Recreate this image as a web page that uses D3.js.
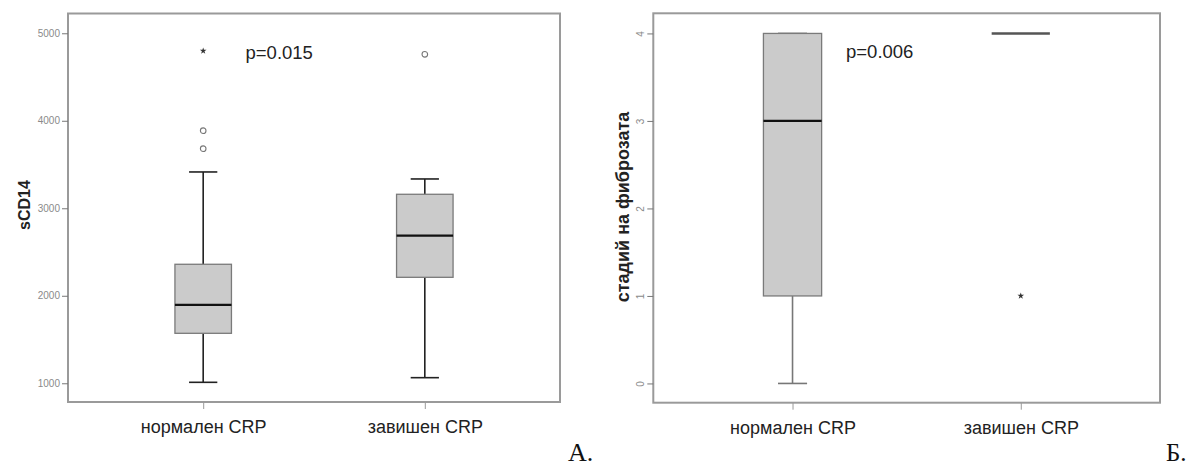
<!DOCTYPE html>
<html>
<head>
<meta charset="utf-8">
<script src="https://cdn.jsdelivr.net/npm/d3@7"></script>
<style>
  html, body { margin: 0; padding: 0; background: #fff; }
  svg { display: block; }
  text { font-family: "Liberation Sans", Arial, sans-serif; }
</style>
</head>
<body>
<svg id="chart" width="1192" height="468"></svg>
<script>
// Groups (CRP status)
const categories = ["нормален CRP", "завишен CRP"];

// Panel A: sCD14 box statistics per group
const sCD14Low    = [1011, 1064];
const sCD14Q1     = [1571, 2211];
const sCD14Median = [1895, 2687];
const sCD14Q3     = [2360, 3160];
const sCD14High   = [3415, 3335];
const sCD14Outliers = [[3887, 3681], [4760]];
const sCD14Extremes = [[4798], []];
const sCD14Ticks = [1000, 2000, 3000, 4000, 5000];

// Panel B: fibrosis stage box statistics per group
const stageLow    = [0, 4];
const stageQ1     = [1, 4];
const stageMedian = [3, 4];
const stageQ3     = [4, 4];
const stageHigh   = [4, 4];
const stageOutliers = [[], []];
const stageExtremes = [[], [1]];
const stageTicks = [0, 1, 2, 3, 4];

const svg = d3.select("#chart");

function boxPanel(cfg) {
  const g = svg.append("g");
  const [x0, x1] = cfg.xRange, [yb, yt] = cfg.yRange;

  const x = d3.scalePoint().domain(categories).range([x0, x1]).padding(0.61);
  const y = d3.scaleLinear().domain(cfg.yDomain).range([yb, yt]);
  const bw = x.step() * 0.255;

  const stats = categories.map((c, i) => ({
    c, low: cfg.low[i], q1: cfg.q1[i], med: cfg.median[i], q3: cfg.q3[i], high: cfg.high[i],
    out: cfg.outliers[i], ext: cfg.extremes[i]
  }));

  // Frame
  g.append("rect")
    .attr("x", x0).attr("y", yt).attr("width", x1 - x0).attr("height", yb - yt)
    .attr("fill", "none").attr("stroke", "#9a9a9a").attr("stroke-width", 2);

  // Y axis (ticks on the frame)
  const yAxis = d3.axisLeft(y).tickValues(cfg.ticks).tickSize(6).tickPadding(2)
    .tickFormat(d3.format("d"));
  const ya = g.append("g").attr("transform", `translate(${x0},0)`).call(yAxis);
  ya.select(".domain").remove();
  ya.selectAll(".tick line").attr("stroke", "#777");
  ya.selectAll(".tick text").attr("fill", "#8a8a8a").style("font-size", "10px");
  if (cfg.rotateTicks) {
    ya.selectAll(".tick text")
      .attr("text-anchor", "middle").attr("x", -12).attr("dy", null)
      .attr("transform", "rotate(-90,-12,0)").attr("y", 3);
  }

  // X axis
  const xAxis = d3.axisBottom(x).tickSize(7).tickPadding(8);
  const xa = g.append("g").attr("transform", `translate(0,${yb})`).call(xAxis);
  xa.select(".domain").remove();
  xa.selectAll(".tick line").attr("stroke", "#999");
  xa.selectAll(".tick text").attr("fill", "#222").style("font-size", "18px").attr("dy", "0.9em");

  const grp = g.selectAll(".box").data(stats).join("g").attr("class", "box")
    .attr("transform", d => `translate(${x(d.c)},0)`);

  // Whiskers
  grp.append("line").attr("x1", 0).attr("x2", 0)
    .attr("y1", d => y(d.q3)).attr("y2", d => y(d.high))
    .attr("stroke", cfg.whiskerColor).attr("stroke-width", 1.6);
  grp.append("line").attr("x1", 0).attr("x2", 0)
    .attr("y1", d => y(d.q1)).attr("y2", d => y(d.low))
    .attr("stroke", cfg.whiskerColor).attr("stroke-width", 1.6);
  grp.filter(d => d.high !== d.low).each(function (d) {
    const s = d3.select(this);
    [d.high, d.low].forEach(v => s.append("line")
      .attr("x1", -bw / 4).attr("x2", bw / 4).attr("y1", y(v)).attr("y2", y(v))
      .attr("stroke", cfg.whiskerColor).attr("stroke-width", 1.6));
  });

  // Boxes
  grp.filter(d => d.q3 !== d.q1).append("rect")
    .attr("x", -bw / 2).attr("width", bw)
    .attr("y", d => y(d.q3)).attr("height", d => y(d.q1) - y(d.q3))
    .attr("fill", "#cbcbcb").attr("stroke", "#7a7a7a").attr("stroke-width", 1.3);

  // Medians
  grp.append("line").attr("x1", -bw / 2).attr("x2", bw / 2)
    .attr("y1", d => y(d.med)).attr("y2", d => y(d.med))
    .attr("stroke", d => d.q3 === d.q1 ? "#555" : "#111")
    .attr("stroke-width", d => d.q3 === d.q1 ? 2.6 : 2.2);

  // Outliers (circles) and extremes (stars)
  grp.each(function (d) {
    const s = d3.select(this);
    d.out.forEach(v => s.append("circle").attr("cx", 0).attr("cy", y(v)).attr("r", 2.8)
      .attr("fill", "none").attr("stroke", "#777").attr("stroke-width", 1.1));
    d.ext.forEach(v => s.append("path")
      .attr("d", d3.symbol(d3.symbolStar, 14)())
      .attr("transform", `translate(0,${y(v)})`).attr("fill", "#333"));
  });

  // Y title
  g.append("text")
    .attr("transform", `translate(${cfg.titleX},${cfg.titleY}) rotate(-90)`)
    .attr("text-anchor", "middle").attr("dy", "0.35em")
    .style("font-size", cfg.titleSize).style("font-weight", "bold").attr("fill", "#222")
    .text(cfg.title);

  // p-value
  g.append("text").attr("x", cfg.pX).attr("y", cfg.pY)
    .style("font-size", "18.5px").attr("fill", "#222").text(cfg.pText);
}

boxPanel({
  xRange: [68, 560], yRange: [402, 13.5], yDomain: [786, 5226],
  low: sCD14Low, q1: sCD14Q1, median: sCD14Median, q3: sCD14Q3, high: sCD14High,
  outliers: sCD14Outliers, extremes: sCD14Extremes, ticks: sCD14Ticks,
  whiskerColor: "#222", title: "sCD14", titleX: 24, titleY: 205, titleSize: "16px",
  pText: "p=0.015", pX: 245.5, pY: 58.5, rotateTicks: false
});

boxPanel({
  xRange: [653.3, 1160], yRange: [402.7, 13.3], yDomain: [-0.22, 4.23],
  low: stageLow, q1: stageQ1, median: stageMedian, q3: stageQ3, high: stageHigh,
  outliers: stageOutliers, extremes: stageExtremes, ticks: stageTicks,
  whiskerColor: "#777", title: "стадий на фиброзата", titleX: 623, titleY: 207, titleSize: "18px",
  pText: "p=0.006", pX: 846, pY: 57.5, rotateTicks: true
});

// Panel letters
const letterFont = "'Liberation Serif', 'Times New Roman', serif";
svg.append("text").attr("x", 568).attr("y", 461)
  .style("font-family", letterFont).style("font-size", "26px")
  .attr("fill", "#111").text("А.");
svg.append("text").attr("x", 1166).attr("y", 461)
  .style("font-family", letterFont).style("font-size", "25px")
  .attr("fill", "#111").text("Б.");
</script>
</body>
</html>
